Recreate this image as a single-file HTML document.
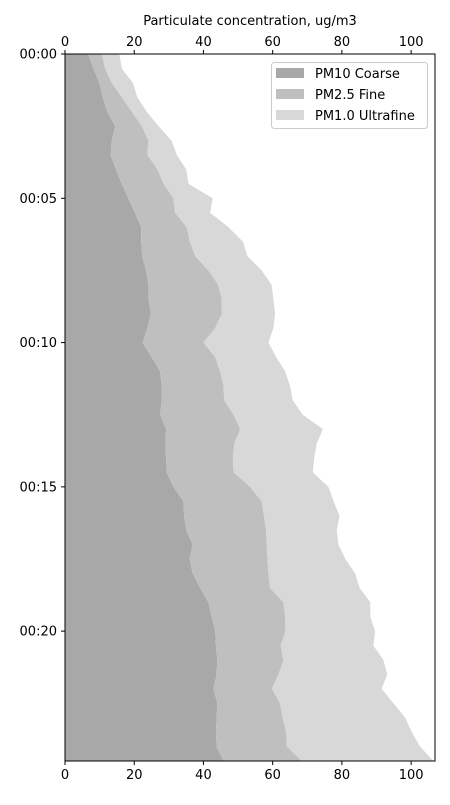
<!DOCTYPE html>
<html><head><meta charset="utf-8"><style>
body{margin:0;background:#fff;font-family:"Liberation Sans","DejaVu Sans",sans-serif;}
svg text{font-family:"DejaVu Sans","Liberation Sans",sans-serif;font-size:13px;fill:#000;}
</style></head><body>
<svg id="chart" width="450" height="800" viewBox="0 0 450 800"></svg>
<script>
const minutes=[0,0.5,1,1.5,2,2.5,3,3.5,4,4.5,5,5.5,6,6.5,7,7.5,8,8.5,9,9.5,10,10.5,11,11.5,12,12.5,13,13.5,14,14.5,15,15.5,16,16.5,17,17.5,18,18.5,19,19.5,20,20.5,21,21.5,22,22.5,23,23.5,24,24.5];
const coarse=[6.7,8.2,9.9,10.9,12.2,14.5,13.5,13.2,14.7,16.4,18.3,20.2,22,22,22.3,23.4,24.1,24.1,24.8,23.8,22.4,25,27.5,27.9,27.9,27.5,29.2,29,29.2,29.4,31.3,34.2,34.4,35,36.9,36,36.9,39,41.4,42.4,43.4,43.6,44,43.8,42.9,44,43.8,43.6,43.8,45.8];
const fine=[3.9,3.4,3.6,5.5,7.1,7.7,10.6,10.6,12,12.1,13,11.6,13.2,14.1,15.3,18,20.2,21.2,20.5,19.6,17.6,18.4,17.3,17.9,18.1,21.2,21.4,19.9,19.3,19.3,22.2,22.6,23.1,23.1,21.4,22.5,21.9,20.2,21.7,21.2,20.3,18.7,19.1,17.9,16.9,18.1,19.1,20.3,20.3,22.6];
const ultra=[5.1,4.8,6.1,4.5,4.3,4.8,6.7,8.5,8.3,7.2,11.4,10.1,12,15.3,15.1,15.4,15.4,14.9,15.4,16.8,18.8,17.6,18.8,19.2,19.8,20,23.9,23.8,23.5,22.9,22.6,20.8,21.8,20.4,20.7,22.5,25,25.9,25.1,24.6,25.9,26.8,28.9,31.4,31.7,32.8,35.4,36.3,38.5,38];
const xTicks=[0,20,40,60,80,100];
const yTicks=[0,5,10,15,20];
const yTickLabels=["00:00","00:05","00:10","00:15","00:20"];
const seriesNames=["PM10 Coarse","PM2.5 Fine","PM1.0 Ultrafine"];

const L=65,R=435,T=54,B=761,XMAX=106.9,YMAX=24.5;
const sx=v=>L+v/XMAX*(R-L);
const sy=m=>T+m/YMAX*(B-T);
const NS="http://www.w3.org/2000/svg";
const svg=document.getElementById('chart');
function mk(tag,attrs,parent){const e=document.createElementNS(NS,tag);for(const k in attrs)e.setAttribute(k,attrs[k]);(parent||svg).appendChild(e);return e;}

const colors=["#a8a8a8","#bfbfbf","#d8d8d8"];
const series=[coarse,fine,ultra];
const slugs=["area-pm10-coarse","area-pm25-fine","area-pm10-ultrafine"];
let base=minutes.map(()=>0);
series.forEach((s,i)=>{
  const top=base.map((b,j)=>b+s[j]);
  let d="";
  minutes.forEach((m,j)=>{d+=(j?"L":"M")+sx(top[j]).toFixed(2)+","+sy(m).toFixed(2);});
  for(let j=minutes.length-1;j>=0;j--){d+="L"+sx(base[j]).toFixed(2)+","+sy(minutes[j]).toFixed(2);}
  d+="Z";
  const p=mk('path',{d:d,fill:colors[i],stroke:"none"});
  
  
  base=top;
});

const frame=mk('rect',{x:L,y:T,width:R-L,height:B-T,fill:"none",stroke:"#000","stroke-width":1});



xTicks.forEach(v=>{
  const x=sx(v);
  mk('line',{x1:x,x2:x,y1:T,y2:T-4,stroke:"#000"});
  mk('line',{x1:x,x2:x,y1:B,y2:B+4,stroke:"#000"});
  const t1=mk('text',{x:x,y:T-8,"text-anchor":"middle"});t1.textContent=v;
  
  
  const t2=mk('text',{x:x,y:B+18,"text-anchor":"middle"});t2.textContent=v;
  
  
});
yTicks.forEach((m,i)=>{
  const y=sy(m);
  mk('line',{x1:L,x2:L-4,y1:y,y2:y,stroke:"#000"});
  const t=mk('text',{x:L-8,y:y+4.5,"text-anchor":"end"});t.textContent=yTickLabels[i];
  
  
});
const xt=mk('text',{x:(L+R)/2,y:25,"text-anchor":"middle"});xt.textContent="Particulate concentration, ug/m3";



const lg=mk('g',{});


mk('rect',{x:271.5,y:62.5,width:156,height:66,rx:3,fill:"#fff","fill-opacity":0.8,stroke:"#ccc"},lg);
seriesNames.forEach((n,i)=>{
  const y=68+i*21;
  mk('rect',{x:276,y:y,width:28,height:10,fill:colors[i]},lg);
  const t=mk('text',{x:315,y:y+10},lg);t.textContent=n;
  
  
});
</script>
</body></html>
